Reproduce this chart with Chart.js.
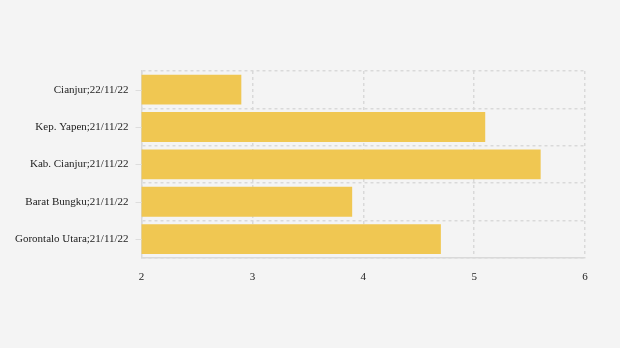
<!DOCTYPE html>
<html>
<head>
<meta charset="utf-8">
<script src="https://cdn.jsdelivr.net/npm/chart.js@4"></script>
<style>
  html, body { margin: 0; padding: 0; background: #f4f4f4; }
  #wrap { width: 620px; height: 348px; }
</style>
</head>
<body>
<div id="wrap"><canvas id="chart" width="620" height="348"></canvas></div>
<script>
// chart data
const categories = ['Cianjur;22/11/22', 'Kep. Yapen;21/11/22', 'Kab. Cianjur;21/11/22', 'Barat Bungku;21/11/22', 'Gorontalo Utara;21/11/22'];
const values = [2.9, 5.1, 5.6, 3.9, 4.7];
const xTicks = [2, 3, 4, 5, 6];

// small tick marks at the centre of each category label
const labelTicks = {
  id: 'labelTicks',
  afterDraw(chart) {
    const ctx = chart.ctx;
    const y = chart.scales.y;
    ctx.save();
    ctx.strokeStyle = '#dddddd';
    ctx.lineWidth = 1;
    y.ticks.forEach(function (t, i) {
      const py = Math.round(y.getPixelForTick(i)) + 0.5;
      ctx.beginPath();
      ctx.moveTo(y.right - 6, py);
      ctx.lineTo(y.right, py);
      ctx.stroke();
    });
    ctx.restore();
  }
};

Chart.defaults.font.family = '"Liberation Serif", "Times New Roman", serif';
Chart.defaults.font.size = 11;
Chart.defaults.color = '#222';

new Chart(document.getElementById('chart').getContext('2d'), {
  type: 'bar',
  data: {
    labels: categories,
    datasets: [{
      data: values,
      backgroundColor: '#f0c752',
      borderWidth: 0,
      barPercentage: 0.8,
      categoryPercentage: 1
    }]
  },
  options: {
    indexAxis: 'y',
    responsive: false,
    animation: false,
    layout: { padding: { top: 71, right: 35, bottom: 51, left: 2 } },
    plugins: { legend: { display: false }, tooltip: { enabled: false } },
    scales: {
      x: {
        min: xTicks[0],
        max: xTicks[xTicks.length - 1],
        afterBuildTicks: function (scale) {
          scale.ticks = xTicks.map(function (v) { return { value: v }; });
        },
        grid: { color: '#d9d9d9', lineWidth: 1.5, drawTicks: false },
        border: { display: true, color: '#d9d9d9', width: 1.5, dash: [3, 3] },
        ticks: { padding: 13, color: '#222' }
      },
      y: {
        grid: { color: '#d9d9d9', lineWidth: 1.5, offset: true, drawTicks: false },
        border: { display: true, color: '#d9d9d9', width: 1.5, dash: [3, 3] },
        ticks: { padding: 13, color: '#222' }
      }
    }
  },
  plugins: [labelTicks]
});
</script>
</body>
</html>
